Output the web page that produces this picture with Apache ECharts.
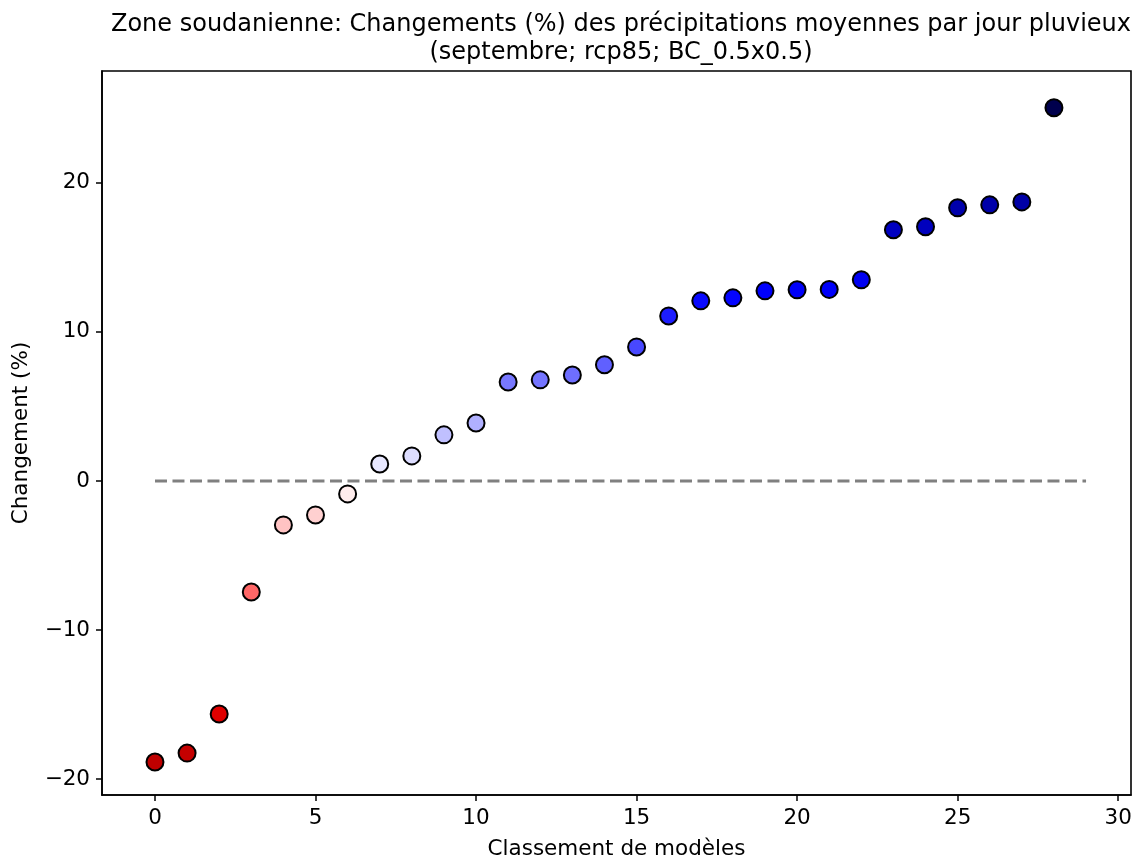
<!DOCTYPE html>
<html><head><meta charset="utf-8">
<script src="https://cdn.jsdelivr.net/npm/echarts@6/dist/echarts.min.js"></script>
<style>html,body{margin:0;padding:0;background:#fff}#c{width:1133px;height:859px}</style>
</head><body><div id="c"></div>
<script>
const ranks = [0,1,2,3,4,5,6,7,8,9,10,11,12,13,14,15,16,17,18,19,20,21,22,23,24,25,26,27,28];
const changes = [-18.86,-18.26,-15.64,-7.45,-2.95,-2.28,-0.87,1.14,1.68,3.09,3.89,6.64,6.78,7.11,7.79,8.99,11.07,12.08,12.28,12.75,12.82,12.85,13.49,16.85,17.05,18.32,18.52,18.72,25.03];
const xTicks = [0,5,10,15,20,25,30];
const yTicks = [-20,-10,0,10,20];
const zeroLine = [[0,0],[29,0]];
const titleText = 'Zone soudanienne: Changements (%) des précipitations moyennes par jour pluvieux\n(septembre; rcp85; BC_0.5x0.5)';

const F = 'DejaVu Sans';
const minus = v => String(v).replace('-', '\u2212');
const chart = echarts.init(document.getElementById('c'), null, {renderer:'canvas'});
chart.setOption({
  backgroundColor:'#fff',
  animation:false,
  title:{text:titleText, left:616, top:6, textAlign:'center',
    textStyle:{fontFamily:F, fontSize:24, fontWeight:'normal', color:'#000', lineHeight:28}},
  grid:{left:102, right:2, top:71, bottom:64, show:true, borderColor:'#000', borderWidth:1.6,
    containLabel:false, outerBoundsMode:'none'},
  visualMap:{show:false, type:'continuous', min:-25, max:25, dimension:1, seriesIndex:0,
    inRange:{color:['#800000','#ff0000','#ffffff','#0000ff','#00004d']}},
  xAxis:{type:'value', min:-1.65, max:30.4,
    name:'Classement de modèles', nameLocation:'middle', nameGap:43,
    nameTextStyle:{fontFamily:F, fontSize:21.5, color:'#000'},
    splitLine:{show:false},
    axisLine:{show:true, onZero:false, lineStyle:{color:'#000', width:1.6}},
    axisTick:{show:true, length:6, customValues:xTicks, lineStyle:{color:'#000', width:1.5}},
    axisLabel:{customValues:xTicks, fontFamily:F, fontSize:21.5, color:'#000', margin:12, formatter:minus}},
  yAxis:{type:'value', min:-21.07, max:27.5,
    name:'Changement (%)', nameLocation:'middle', nameGap:70, nameRotate:90,
    nameTextStyle:{fontFamily:F, fontSize:21.5, color:'#000'},
    splitLine:{show:false},
    axisLine:{show:true, onZero:false, lineStyle:{color:'#000', width:1.6}},
    axisTick:{show:true, length:6, customValues:yTicks, lineStyle:{color:'#000', width:1.5}},
    axisLabel:{customValues:yTicks, fontFamily:F, fontSize:21.5, color:'#000', margin:12, formatter:minus}},
  series:[
    {type:'scatter', data:ranks.map((r,i)=>[r,changes[i]]), symbolSize:17, z:3,
     itemStyle:{borderColor:'#000', borderWidth:2, opacity:1}},
    {type:'line', data:zeroLine, symbol:'none', z:2, silent:true,
     lineStyle:{color:'#808080', width:3, type:[12,5.5]}}
  ]
});
</script></body></html>
